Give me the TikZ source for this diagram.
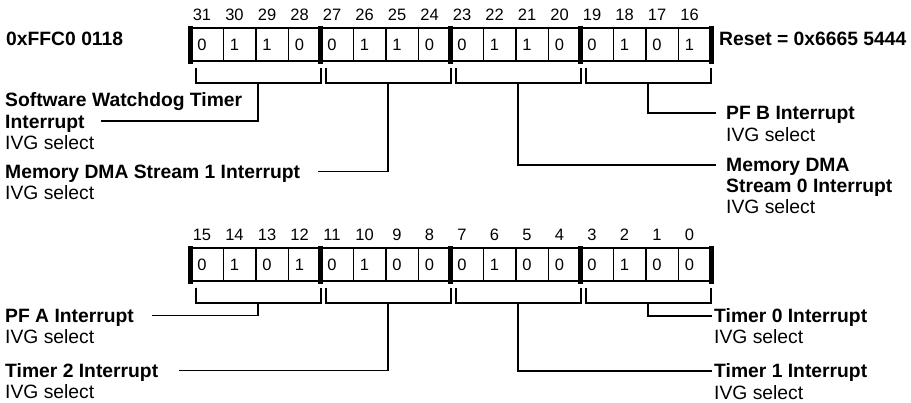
\documentclass[tikz,border=0pt]{standalone}
\usepackage{fontspec}
\setmainfont{Liberation Sans}
\usetikzlibrary{positioning, calc}
\tikzset{
    cell/.style={
        rectangle,
        draw=black,
        line width=1.6pt,
        minimum width=32.5pt,
        minimum height=33pt,
        inner sep=0pt,
        anchor=north west
    },
    bitnum/.style={
        font=\fontsize{16.5}{18}\selectfont,
        inner sep=0pt,
        text height=11.8pt,
        text depth=0pt
    },
    bitval/.style={bitnum},
    grpbar/.style={line width=5pt},
    brk/.style={line width=1.9pt},
    conn/.style={line width=1.9pt},
    lbl/.style={
        font=\fontsize{19.3}{21}\selectfont\bfseries,
        inner sep=0pt,
        text height=13.9pt,
        text depth=0pt,
        anchor=base west
    },
    ivg/.style={lbl, font=\fontsize{19.3}{21}\selectfont},
    under/.style={below=6.8pt of #1.south west, anchor=north west}
}

\begin{document}
\begin{tikzpicture}[x=1pt, y=-1pt]
\useasboundingbox (0,0) rectangle (911,403);

% Address and reset value
\node[lbl] (lbl_addr) at (6,46) {0xFFC0 0118};
\node[lbl] (lbl_reset) at (719,46) {Reset = 0x6665 5444};

% --- Upper half: bits 31..16 ---
\foreach \v [count=\i from 0] in {0,1,1,0, 0,1,1,0, 0,1,1,0, 0,1,0,1} {
    \pgfmathtruncatemacro{\b}{31-\i}
    \node[cell] (c\b) at ({190+32.5*\i}, 27) {};
    \node[bitnum] (n\b) at ($(c\b.north west)+(12,-12)$) {\b};
    \node[bitval] (v\b) at ($(c\b.west)+(12,0)$) {\v};
}

% --- Lower half: bits 15..0 ---
\foreach \v [count=\i from 0] in {0,1,0,1, 0,1,0,0, 0,1,0,0, 0,1,0,0} {
    \pgfmathtruncatemacro{\b}{15-\i}
    \node[cell] (c\b) at ({190+32.5*\i}, 247) {};
    \node[bitnum] (n\b) at ($(c\b.north west)+(12,-12)$) {\b};
    \node[bitval] (v\b) at ($(c\b.west)+(12,0)$) {\v};
}

% Nibble separators
\foreach \b in {31,27,23,19,15,11,7,3}
    \draw[grpbar] ($(c\b.north west)+(0,-0.8)$) -- ($(c\b.south west)+(0,2)$);
\foreach \b in {16,0}
    \draw[grpbar] ($(c\b.north east)+(0,-0.8)$) -- ($(c\b.south east)+(0,2)$);

% Brackets under each field
\foreach \f/\l/\n in {31/28/swdt, 27/24/mdma1, 23/20/mdma0, 19/16/pfb,
                      15/12/pfa, 11/8/tmr2, 7/4/tmr1, 3/0/tmr0} {
    \draw[brk] ($(c\f.south west)+(6,6)$) -- ++(0,15) -| ($(c\l.south east)+(-1,6)$);
    \coordinate (st_\n) at ($(c\f.south west)!0.5!(c\l.south east)+(2.5,21)$);
}

% Left labels, upper half
\node[lbl] (lbl_swdt) at (5,107) {Software Watchdog Timer};
\node[lbl, under=lbl_swdt] (lbl_swdt_b) {Interrupt};
\node[ivg, under=lbl_swdt_b] (ivg_swdt) {IVG select};
\node[lbl] (lbl_mdma1) at (5,178.5) {Memory DMA Stream 1 Interrupt};
\node[ivg, under=lbl_mdma1] (ivg_mdma1) {IVG select};

% Right labels, upper half
\node[lbl] (lbl_pfb) at (726,120) {PF B Interrupt};
\node[ivg, under=lbl_pfb] (ivg_pfb) {IVG select};
\node[lbl] (lbl_mdma0) at (726,171.7) {Memory DMA};
\node[lbl, under=lbl_mdma0] (lbl_mdma0_b) {Stream 0 Interrupt};
\node[ivg, under=lbl_mdma0_b] (ivg_mdma0) {IVG select};

% Left labels, lower half
\node[lbl] (lbl_pfa) at (5,322.5) {PF A Interrupt};
\node[ivg, under=lbl_pfa] (ivg_pfa) {IVG select};
\node[lbl] (lbl_tmr2) at (5,377.5) {Timer 2 Interrupt};
\node[ivg, under=lbl_tmr2] (ivg_tmr2) {IVG select};

% Right labels, lower half
\node[lbl] (lbl_tmr0) at (714,322.7) {Timer 0 Interrupt};
\node[ivg, under=lbl_tmr0] (ivg_tmr0) {IVG select};
\node[lbl] (lbl_tmr1) at (714,378) {Timer 1 Interrupt};
\node[ivg, under=lbl_tmr1] (ivg_tmr1) {IVG select};

% Leader lines
\draw[conn, shorten >=16pt] (st_swdt) |- (lbl_swdt_b);
\draw[conn, shorten >=18pt] (st_mdma1) |- (lbl_mdma1);
\draw[conn, shorten >=10pt] (st_mdma0) |- (lbl_mdma0);
\draw[conn, shorten >=10pt] (st_pfb) |- (lbl_pfb);
\draw[conn, shorten >=18pt] (st_pfa) |- (lbl_pfa);
\draw[conn, shorten >=21pt] (st_tmr2) |- (lbl_tmr2);
\draw[conn, shorten >=2pt] (st_tmr1) |- (lbl_tmr1);
\draw[conn, shorten >=2pt] (st_tmr0) |- (lbl_tmr0);

\end{tikzpicture}
\end{document}
